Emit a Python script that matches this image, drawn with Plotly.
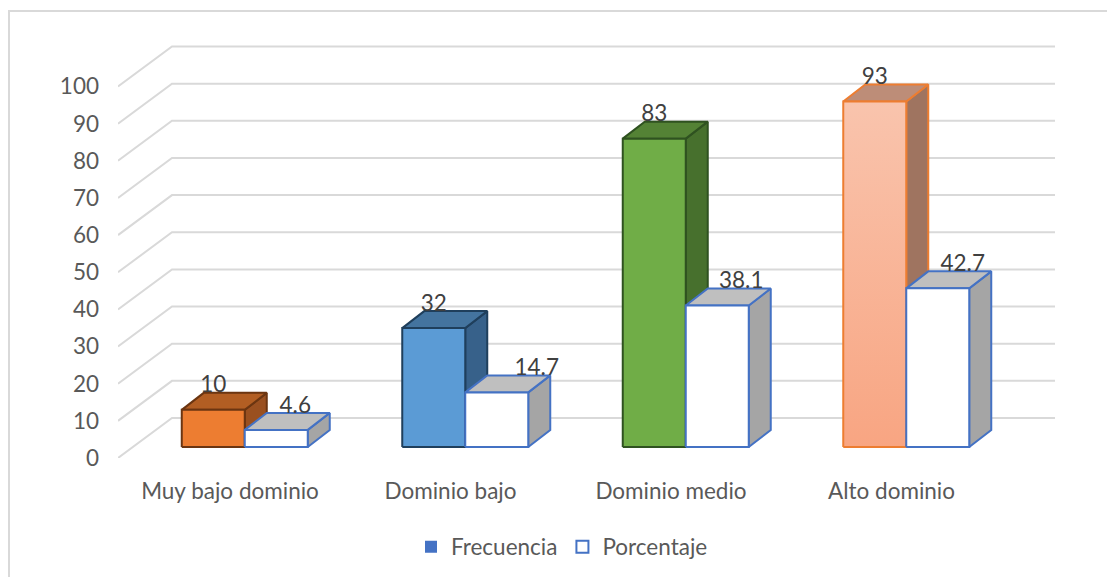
import plotly.graph_objects as go

CATEGORIES = ["Muy bajo dominio", "Dominio bajo", "Dominio medio", "Alto dominio"]
FRECUENCIA = [10, 32, 83, 93]
PORCENTAJE = [4.6, 14.7, 38.1, 42.7]
Y_TICKS = [0, 10, 20, 30, 40, 50, 60, 70, 80, 90, 100]

# the page body adds an 8px margin around the figure
PAGE_MARGIN = 8
FIG_W, FIG_H = 1115 - PAGE_MARGIN, 577 - PAGE_MARGIN

# pixel geometry of the fake 3D box, converted to axis units below
PLOT_LEFT, PLOT_RIGHT, PLOT_TOP, PLOT_BOTTOM = 118, 1055, 45, 458
CAT_PX = 220.5
VAL_PX = 3.715
X0 = -0.5 - (119.75 - PLOT_LEFT) / CAT_PX
X1 = X0 + (PLOT_RIGHT - PLOT_LEFT) / CAT_PX
Y1 = (PLOT_BOTTOM - PLOT_TOP) / VAL_PX

BAR_W = 63 / CAT_PX
DEPTH_X = 22 / CAT_PX
DEPTH_Y = 17 / VAL_PX
FLOOR = 11 / VAL_PX
WALL_X = 54 / CAT_PX
WALL_Y = 40 / VAL_PX
FREQ_LEFT = -0.2188

FREQ_STYLES = [
    dict(front="#ED7D31", top="#B25E23", side="#9A5020", line="#6B3511"),
    dict(front="#5B9BD5", top="#44749F", side="#37618A", line="#1F3F5C"),
    dict(front="#70AD47", top="#548235", side="#47702D", line="#2F5220"),
    dict(front="#F8C3AC", top="#BD8D78", side="#9F7460", line="#ED7D31",
         gradient=["#F9C4AD", "#F8A582"]),
]
PCT_STYLE = dict(front="#FFFFFF", top="#BFBFBF", side="#A5A5A5", line="#4472C4")
FREQ_LABEL_SHIFT = [0, 0, 0, 0]
PCT_LABEL_SHIFT = [19, 40, 24, 25]
TEXT_COLOR = "#595959"
LABEL_COLOR = "#404040"
FONT = "Lato"
FONT_SIZE = 22.5

fig = go.Figure()


def add_face(xs, ys, fill, line, gradient=None):
    face = go.Scatter(
        x=xs + xs[:1],
        y=ys + ys[:1],
        mode="lines",
        fill="toself",
        fillcolor=fill,
        line=dict(color=line, width=2),
        showlegend=False,
        hoverinfo="skip",
    )
    if gradient:
        face.fillgradient = dict(
            type="vertical",
            colorscale=[[0, gradient[1]], [1, gradient[0]]],
        )
    fig.add_trace(face)


def add_box(left, value, style):
    right = left + BAR_W
    low, high = FLOOR, FLOOR + value
    add_face(
        [right, right + DEPTH_X, right + DEPTH_X, right],
        [low, low + DEPTH_Y, high + DEPTH_Y, high],
        style["side"], style["line"],
    )
    add_face(
        [left, right, right + DEPTH_X, left + DEPTH_X],
        [high, high, high + DEPTH_Y, high + DEPTH_Y],
        style["top"], style["line"],
    )
    add_face(
        [left, right, right, left],
        [low, low, high, high],
        style["front"], style["line"], style.get("gradient"),
    )


for i, (freq, pct) in enumerate(zip(FRECUENCIA, PORCENTAJE)):
    add_box(i + FREQ_LEFT, freq, FREQ_STYLES[i])
    add_box(i + FREQ_LEFT + BAR_W, pct, PCT_STYLE)


def add_labels(values, lefts, shifts):
    fig.add_trace(
        go.Scatter(
            x=[l + BAR_W / 2 + s / CAT_PX for l, s in zip(lefts, shifts)],
            y=[FLOOR + v + DEPTH_Y + 6 / VAL_PX for v in values],
            mode="text",
            text=[str(v) for v in values],
            textposition="middle center",
            textfont=dict(family=FONT, size=FONT_SIZE, color=LABEL_COLOR),
            showlegend=False,
            hoverinfo="skip",
        )
    )


add_labels(FRECUENCIA, [i + FREQ_LEFT for i in range(4)], FREQ_LABEL_SHIFT)
add_labels(PORCENTAJE, [i + FREQ_LEFT + BAR_W for i in range(4)], PCT_LABEL_SHIFT)

# legend only, the real boxes have per-point colours
fig.add_trace(
    go.Scatter(
        x=[None], y=[None], mode="markers", name="Frecuencia",
        marker=dict(symbol="square", size=14, color="#4472C4"),
    )
)
fig.add_trace(
    go.Scatter(
        x=[None], y=[None], mode="markers", name="Porcentaje",
        marker=dict(symbol="square", size=14, color="#FFFFFF",
                    line=dict(color="#4472C4", width=2)),
    )
)

# back wall grid goes below all traces
for tick in Y_TICKS:
    fig.add_shape(
        type="path",
        path=f"M {X0} {tick} L {X0 + WALL_X} {tick + WALL_Y} L {X1} {tick + WALL_Y}",
        line=dict(color="#D9D9D9", width=2),
        layer="below",
    )

plot_w = PLOT_RIGHT - PLOT_LEFT
plot_h = PLOT_BOTTOM - PLOT_TOP
fig.add_shape(
    type="rect",
    xref="paper",
    yref="paper",
    x0=(9 - PLOT_LEFT) / plot_w,
    x1=(1130 - PLOT_LEFT) / plot_w,
    y0=(PLOT_BOTTOM - 600) / plot_h,
    y1=(PLOT_BOTTOM - 11) / plot_h,
    line=dict(color="#D9D9D9", width=2),
    layer="below",
)

fig.update_layout(
    width=FIG_W,
    height=FIG_H,
    autosize=False,
    margin=dict(
        l=PLOT_LEFT - PAGE_MARGIN,
        r=1115 - PLOT_RIGHT,
        t=PLOT_TOP - PAGE_MARGIN,
        b=577 - PLOT_BOTTOM,
    ),
    paper_bgcolor="white",
    plot_bgcolor="white",
    font=dict(family=FONT, size=FONT_SIZE, color=TEXT_COLOR),
    xaxis=dict(
        range=[X0, X1],
        tickmode="array",
        tickvals=list(range(4)),
        ticktext=CATEGORIES,
        showgrid=False,
        zeroline=False,
        ticklabelstandoff=17,
    ),
    yaxis=dict(
        range=[0, Y1],
        tickmode="array",
        tickvals=Y_TICKS,
        showgrid=False,
        zeroline=False,
        ticklabelstandoff=18,
    ),
    legend=dict(
        orientation="h",
        xref="container",
        yref="container",
        x=(562 - PAGE_MARGIN) / FIG_W,
        y=1 - (547 - PAGE_MARGIN) / FIG_H,
        xanchor="center",
        yanchor="middle",
        itemsizing="constant",
    ),
)

fig.write_html("out.html")
